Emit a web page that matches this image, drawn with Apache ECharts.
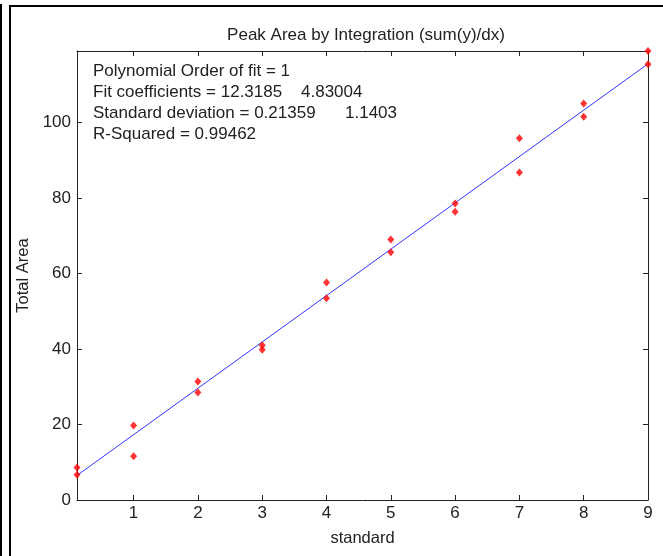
<!DOCTYPE html>
<html>
<head>
<meta charset="utf-8">
<script src="https://cdn.jsdelivr.net/npm/echarts@6/dist/echarts.min.js"></script>
<style>
  html, body { margin: 0; padding: 0; background: #fff; }
  #chart { width: 663px; height: 556px; }
</style>
</head>
<body>
<div id="chart"></div>
<script>
// measured points (standard, total area)
const standards = [0.12, 0.12, 1, 1, 2, 2, 3, 3, 4, 4, 5, 5, 6, 6, 7, 7, 8, 8, 9, 9];
const areas = [8.6, 6.7, 19.7, 11.6, 31.4, 28.5, 41.0, 39.8, 57.6, 53.4,
               69.0, 65.6, 78.5, 76.3, 95.8, 86.7, 105.0, 101.5, 118.9, 115.4];
// fitted line end points
const fitX = [0.12, 9];
const fitY = [6.5, 115.5];
const xTicks = [1, 2, 3, 4, 5, 6, 7, 8, 9];
const yTicks = [0, 20, 40, 60, 80, 100];
// fit summary: label part and trailing second value
const fitLabels = [
    'Polynomial Order of fit = 1',
    'Fit coefficients = 12.3185',
    'Standard deviation = 0.21359',
    'R-Squared = 0.99462'
];
const fitSecond = ['', '4.83004', '1.1403', ''];

const chart = echarts.init(document.getElementById('chart'));
const font = 'Arial, "Liberation Sans", sans-serif';
const ink = '#222';

const xBase = {
    type: 'value', min: 0.12, max: 9,
    axisLine: { onZero: false, lineStyle: { color: ink, width: 1 } },
    axisTick: { inside: true, length: 5, customValues: xTicks, lineStyle: { color: ink } },
    splitLine: { show: false }
};
const yBase = {
    type: 'value', min: 0, max: 118.9,
    axisLine: { onZero: false, lineStyle: { color: ink, width: 1 } },
    axisTick: { inside: true, length: 5, customValues: yTicks, lineStyle: { color: ink } },
    splitLine: { show: false }
};

// text block in the upper-left corner of the axes
const secondColX = [0, 301, 345, 0];
const textEls = [];
fitLabels.forEach((t, i) => {
    const top = 63 + i * 21.1;
    textEls.push({ type: 'text', left: 93, top: top, style: { text: t, font: '17px ' + font, fill: ink } });
    if (fitSecond[i]) {
        textEls.push({ type: 'text', left: secondColX[i], top: top, style: { text: fitSecond[i], font: '17px ' + font, fill: ink } });
    }
});

chart.setOption({
    animation: false,
    backgroundColor: '#fff',
    title: {
        text: 'Peak Area by Integration (sum(y)/dx)',
        left: 361, top: 22, textAlign: 'center',
        textStyle: { fontFamily: font, fontSize: 17, fontWeight: 'normal', color: ink }
    },
    grid: { left: 77, right: 15, top: 51, bottom: 56, outerBoundsMode: 'none' },
    xAxis: [
        Object.assign({}, xBase, {
            position: 'bottom',
            name: 'standard', nameLocation: 'middle', nameGap: 30,
            nameTextStyle: { fontFamily: font, fontSize: 16.5, color: ink },
            axisLabel: { customValues: xTicks, margin: 5, fontFamily: font, fontSize: 17, color: ink }
        }),
        Object.assign({}, xBase, { position: 'top', axisLabel: { show: false } })
    ],
    yAxis: [
        Object.assign({}, yBase, {
            position: 'left',
            name: 'Total Area', nameLocation: 'middle', nameGap: 42,
            nameTextStyle: { fontFamily: font, fontSize: 16.5, color: ink },
            axisLabel: { customValues: yTicks, margin: 6, fontFamily: font, fontSize: 17, color: ink }
        }),
        Object.assign({}, yBase, { position: 'right', axisLabel: { show: false } })
    ],
    graphic: [
        { type: 'line', shape: { x1: 1, y1: 4, x2: 1, y2: 556 }, style: { stroke: '#000', lineWidth: 2 } },
        { type: 'rect', shape: { x: 10, y: 6, width: 700, height: 600 }, style: { fill: null, stroke: '#000', lineWidth: 2 } }
    ].concat(textEls),
    series: [
        {
            type: 'line',
            xAxisIndex: 0, yAxisIndex: 0,
            data: fitX.map((x, i) => [x, fitY[i]]),
            symbol: 'none',
            lineStyle: { color: '#3333ff', width: 1 },
            z: 2
        },
        {
            type: 'scatter',
            xAxisIndex: 0, yAxisIndex: 0,
            data: standards.map((x, i) => [x, areas[i]]),
            symbol: 'diamond',
            symbolSize: [7, 8],
            itemStyle: { color: '#ff0000' },
            clip: false,
            z: 3
        }
    ]
});
</script>
</body>
</html>
